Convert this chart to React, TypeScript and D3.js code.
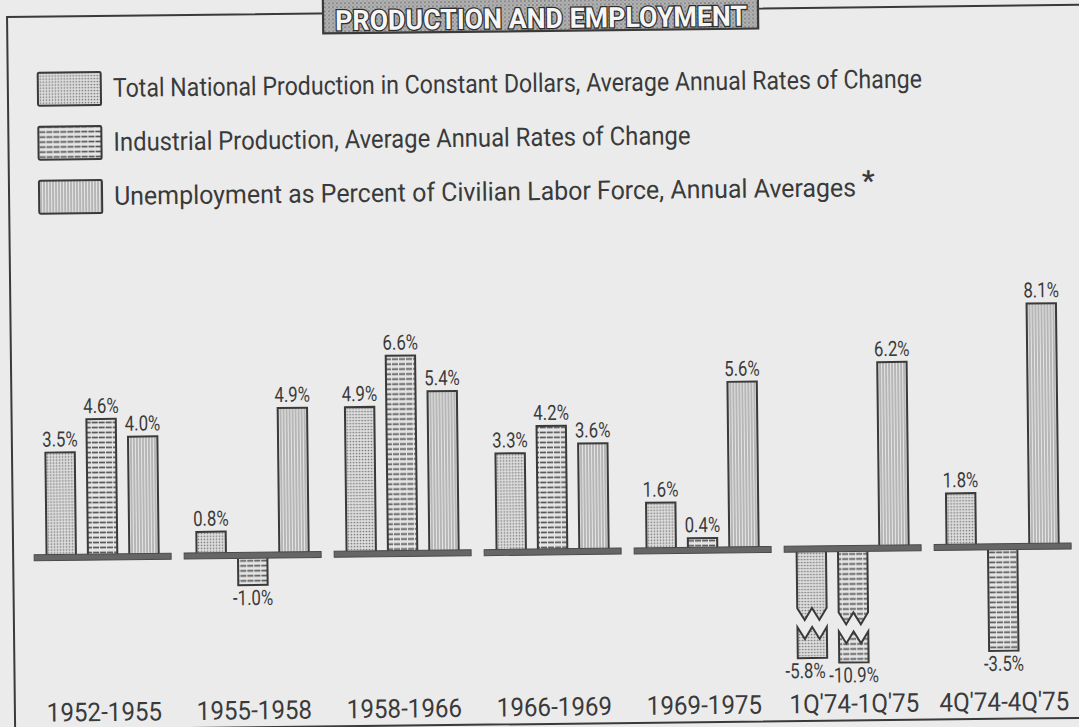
import React from "react";
import * as d3 from "d3";

// ---------------------------------------------------------------------------
// Data
// ---------------------------------------------------------------------------

const PERIODS = [
  "1952-1955",
  "1955-1958",
  "1958-1966",
  "1966-1969",
  "1969-1975",
  "1Q'74-1Q'75",
  "4Q'74-4Q'75",
];

const SERIES = ["total", "industrial", "unemployment"];

const SERIES_LABELS = [
  "Total National Production in Constant Dollars, Average Annual Rates of Change",
  "Industrial Production, Average Annual Rates of Change",
  "Unemployment as Percent of Civilian Labor Force, Annual Averages",
];

const TOTAL = [3.5, 0.8, 4.9, 3.3, 1.6, -5.8, 1.8];
const INDUSTRIAL = [4.6, -1.0, 6.6, 4.2, 0.4, -10.9, -3.5];
const UNEMPLOYMENT = [4.0, 4.9, 5.4, 3.6, 5.6, 6.2, 8.1];

const VALUES = [TOTAL, INDUSTRIAL, UNEMPLOYMENT];

// bars below this value get a cut (axis is compressed past it)
const BREAK_AT = -3.6;

// ---------------------------------------------------------------------------
// Layout
// ---------------------------------------------------------------------------

const W = 1079;
const H = 727;
const BASE = 552;
const INK = "#3a3a3a";
const PAPER = "#ebebeb";
const FONT = "Roboto, 'Liberation Sans', sans-serif";
const FILLS = ["url(#dots)", "url(#hlines)", "url(#vlines)"];
const LEGEND_WIDTHS = [809, 577, 742];

const x0 = d3.scaleBand().domain(PERIODS).range([32, 1069]).paddingInner(0.087).paddingOuter(0);
const x1 = d3
  .scaleBand()
  .domain(SERIES)
  .range([0, x0.bandwidth()])
  .paddingInner(0.29)
  .paddingOuter(0.3);
const y = d3
  .scaleLinear()
  .domain([-11, BREAK_AT, 0, 9])
  .range([BASE + 114, BASE + 107, BASE, BASE - 270]);

const fmt = (v: number) => `${v.toFixed(1)}%`;

// zigzag edge across a bar, "W" shaped
function zig(x: number, w: number, c: number, a: number) {
  return [
    [x + w, c],
    [x + (3 * w) / 4, c + a],
    [x + w / 2, c],
    [x + w / 4, c + a],
    [x, c],
  ];
}

function brokenPieces(x: number, w: number, yb: number) {
  const a = 12;
  const c1 = yb - 50;
  const c2 = yb - 31;
  const top = [[x, BASE], [x + w, BASE], ...zig(x, w, c1, a)];
  const bottom = [...zig(x, w, c2, a).reverse(), [x + w, yb], [x, yb]];
  const line = d3.line();
  return [line(top as any) + "Z", line(bottom as any) + "Z"];
}

function Bars() {
  const out: React.ReactNode[] = [];
  PERIODS.forEach((p, gi) => {
    SERIES.forEach((s, si) => {
      const v = VALUES[si][gi];
      const x = (x0(p) ?? 0) + (x1(s) ?? 0);
      const w = x1.bandwidth();
      const yv = y(v);
      const key = `${p}-${s}`;
      if (v < BREAK_AT) {
        const [a, b] = brokenPieces(x, w, yv);
        out.push(
          <g key={key}>
            <path d={a} fill={FILLS[si]} stroke={INK} strokeWidth={2} />
            <path d={b} fill={FILLS[si]} stroke={INK} strokeWidth={2} />
          </g>
        );
      } else {
        out.push(
          <rect
            key={key}
            x={x}
            y={Math.min(yv, y(0))}
            width={w}
            height={Math.abs(yv - y(0))}
            fill={FILLS[si]}
            stroke={INK}
            strokeWidth={2}
          />
        );
      }
    });
  });
  return <g>{out}</g>;
}

function ValueLabels() {
  const out: React.ReactNode[] = [];
  PERIODS.forEach((p, gi) => {
    SERIES.forEach((s, si) => {
      const v = VALUES[si][gi];
      let cx = (x0(p) ?? 0) + (x1(s) ?? 0) + x1.bandwidth() / 2;
      // neighbouring cut bars: nudge the first label left so the two don't collide
      if (v < BREAK_AT && si === 0) cx -= 7;
      const ty = v >= 0 ? y(v) - 6 : y(v) + 20;
      out.push(
        <text
          key={`${p}-${s}`}
          transform={`translate(${cx},${ty}) scale(0.8,1)`}
          textAnchor="middle"
          fontFamily={FONT}
          fontSize={21}
          fill={INK}
        >
          {fmt(v)}
        </text>
      );
    });
  });
  return <g>{out}</g>;
}

export default function App() {
  return (
    <svg
      width={W}
      height={H}
      viewBox={`0 0 ${W} ${H}`}
      style={{ position: "absolute", left: 0, top: 0, display: "block" }}
    >
      <defs>
        <pattern id="dots" patternUnits="userSpaceOnUse" width={3} height={3}>
          <rect width={3} height={3} fill="#dedede" />
          <circle cx={1.5} cy={1.5} r={0.85} fill="#777" />
        </pattern>
        <pattern id="hlines" patternUnits="userSpaceOnUse" width={7} height={5}>
          <rect width={7} height={5} fill="#e6e6e6" />
          <line x1={0} x2={7} y1={2.5} y2={2.5} stroke="#555" strokeWidth={1.7} strokeDasharray="6 1" />
        </pattern>
        <pattern id="vlines" patternUnits="userSpaceOnUse" width={3} height={4}>
          <rect width={3} height={4} fill="#e4e4e4" />
          <line x1={1} x2={1} y1={0} y2={4} stroke="#888" strokeWidth={1} />
        </pattern>
        <pattern id="speckle" patternUnits="userSpaceOnUse" width={4} height={4}>
          <rect width={4} height={4} fill="#b4b4b4" />
          <circle cx={1} cy={1} r={0.9} fill="#777" />
          <circle cx={3} cy={3} r={0.7} fill="#888" />
        </pattern>
      </defs>

      <rect width={W} height={H} fill={PAPER} />

      <g transform="rotate(-0.65 540 363)">
        {/* frame */}
        <path d="M1095,11 H11 V740 M11,724 H1095" fill="none" stroke={INK} strokeWidth={2} />

        {/* title plate */}
        <rect x={327} y={-12} width={435} height={43} fill="url(#speckle)" stroke={INK} strokeWidth={2.2} />
        <text
          x={545}
          y={28}
          textAnchor="middle"
          fontFamily={FONT}
          fontWeight="bold"
          fontSize={28}
          textLength={412}
          lengthAdjust="spacingAndGlyphs"
          fill="#f6f6f6"
          stroke="#2e2e2e"
          strokeWidth={2.6}
          paintOrder="stroke"
        >
          PRODUCTION AND EMPLOYMENT
        </text>

        {/* legend */}
        {SERIES_LABELS.map((label, i) => (
          <g key={label} transform={`translate(0,${i * 54})`}>
            <rect x={41} y={67} width={63} height={33} fill={FILLS[i]} stroke={INK} strokeWidth={2} rx={1.5} />
            <text
              x={116}
              y={92}
              fontFamily={FONT}
              fontSize={26}
              fill={INK}
              textLength={LEGEND_WIDTHS[i]}
              lengthAdjust="spacingAndGlyphs"
            >
              {label}
            </text>
          </g>
        ))}
        <text x={864} y={194} fontFamily={FONT} fontWeight="bold" fontSize={28} fill={INK}>
          *
        </text>

        <Bars />

        {/* zero baseline, one slab per group */}
        {PERIODS.map((p) => (
          <rect
            key={p}
            x={x0(p)}
            y={y(0) - 3}
            width={x0.bandwidth()}
            height={6}
            fill="#666"
            stroke="#4a4a4a"
            strokeWidth={1}
          />
        ))}

        <ValueLabels />

        {/* period labels */}
        {PERIODS.map((p) => (
          <text
            key={p}
            transform={`translate(${(x0(p) ?? 0) + x0.bandwidth() / 2},716) scale(0.93,1)`}
            textAnchor="middle"
            fontFamily={FONT}
            fontSize={26}
            fill={INK}
          >
            {p}
          </text>
        ))}
      </g>
    </svg>
  );
}
